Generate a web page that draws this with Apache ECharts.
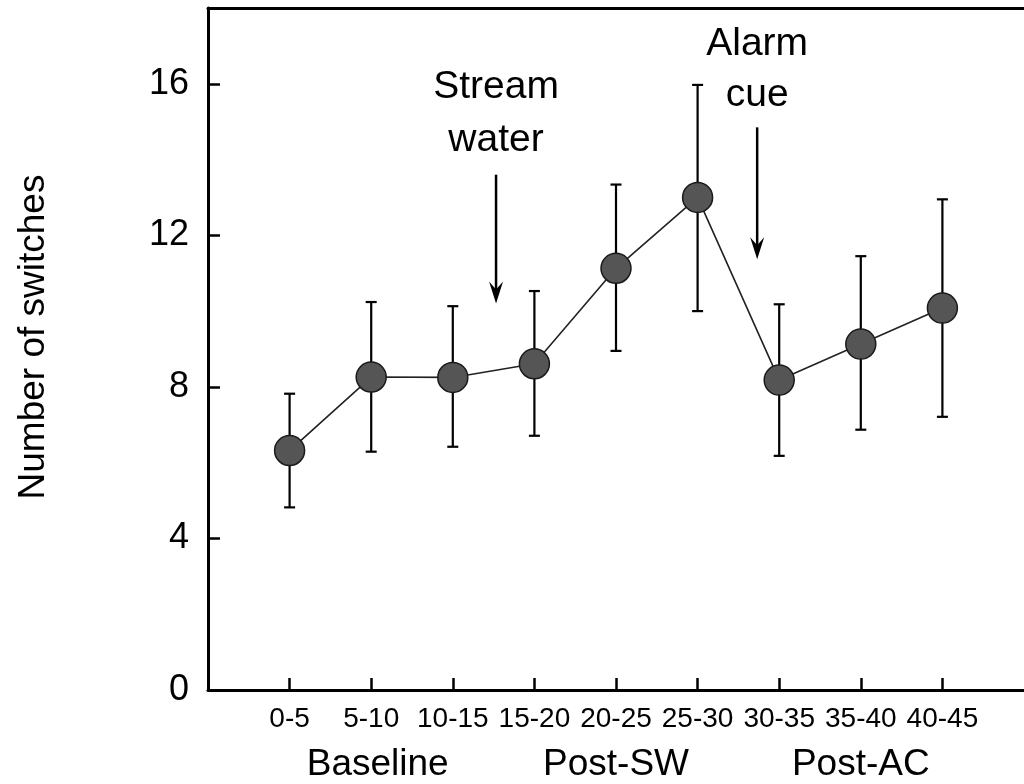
<!DOCTYPE html>
<html><head><meta charset="utf-8">
<script src="https://cdn.jsdelivr.net/npm/echarts@6/dist/echarts.min.js"></script>
<style>html,body{margin:0;padding:0;background:#fff}#c{width:1024px;height:784px}</style>
</head><body><div id="c"></div>
<script>
const categories = ['0-5','5-10','10-15','15-20','20-25','25-30','30-35','35-40','40-45'];
const means = [6.32, 8.26, 8.25, 8.61, 11.13, 13.0, 8.18, 9.13, 10.08];
const upper = [7.82, 10.24, 10.13, 10.53, 13.34, 15.97, 10.18, 11.45, 12.95];
const lower = [4.82, 6.29, 6.42, 6.71, 8.95, 10.0, 6.18, 6.87, 7.21];
const yTicks = [0, 4, 8, 12, 16];
const yTitle = 'Number of switches';
const phaseLabels = ['Baseline', 'Post-SW', 'Post-AC'];
const phasePositions = [2.08, 5, 8];
const annoLines = [['Stream', 'water'], ['Alarm', 'cue']];
const annoX = [3.53, 6.73];
const annoTextY = [[15.9, 14.5], [17.05, 15.7]];
const annoArrowFrom = [13.6, 14.85];
const annoArrowTo = [10.2, 11.37];

const FONT = '"Liberation Sans", Arial, Helvetica, sans-serif';
const xs = categories.map((c, i) => i + 1);
const pointData = xs.map((x, i) => [x, means[i]]);
const errData = xs.map((x, i) => [x, lower[i], upper[i]]);
const annoData = annoX.map((x, i) => [x, annoArrowFrom[i], annoArrowTo[i], i]);

const chart = echarts.init(document.getElementById('c'), null, {renderer: 'canvas'});
const axisLine = {show: true, lineStyle: {color: '#000', width: 3}};
chart.setOption({
  animation: false,
  backgroundColor: '#fff',
  grid: {left: 208, right: -3, top: 8, bottom: 94},
  xAxis: [{
    type: 'value', min: 0, max: 10, position: 'bottom',
    axisLine: axisLine,
    axisTick: {show: true, inside: true, length: 12, lineStyle: {color: '#000', width: 2.5}, customValues: xs},
    axisLabel: {show: true, customValues: xs, formatter: v => categories[Math.round(v) - 1] || '',
      fontSize: 28, color: '#000', fontFamily: FONT, margin: 15},
    splitLine: {show: false}
  }, {
    type: 'value', min: 0, max: 10, position: 'top',
    axisLine: axisLine, axisTick: {show: false}, axisLabel: {show: false}, splitLine: {show: false}
  }],
  yAxis: {
    type: 'value', min: 0, max: 18,
    axisLine: axisLine,
    axisTick: {show: true, inside: true, length: 12, lineStyle: {color: '#000', width: 2.5}, customValues: yTicks},
    axisLabel: {show: true, customValues: yTicks, fontSize: 36, color: '#000', fontFamily: FONT, margin: 19},
    splitLine: {show: false}
  },
  series: [{
    type: 'custom', name: 'err', data: errData, z: 2,
    renderItem: (params, api) => {
      const x = api.value(0);
      const lo = api.coord([x, api.value(1)]);
      const hi = api.coord([x, api.value(2)]);
      const cw = 5.5;
      const st = {stroke: '#000', lineWidth: 2.2};
      return {type: 'group', children: [
        {type: 'line', shape: {x1: lo[0], y1: lo[1], x2: hi[0], y2: hi[1]}, style: st},
        {type: 'line', shape: {x1: hi[0] - cw, y1: hi[1], x2: hi[0] + cw, y2: hi[1]}, style: st},
        {type: 'line', shape: {x1: lo[0] - cw, y1: lo[1], x2: lo[0] + cw, y2: lo[1]}, style: st}
      ]};
    }
  }, {
    type: 'line', data: pointData, z: 3,
    symbol: 'circle', symbolSize: 30,
    lineStyle: {color: '#222', width: 1.6},
    itemStyle: {color: '#555555', borderColor: '#1a1a1a', borderWidth: 1.5}
  }, {
    type: 'custom', name: 'anno', data: annoData, z: 4, clip: false,
    renderItem: (params, api) => {
      const x = api.value(0);
      const idx = api.value(3);
      const from = api.coord([x, api.value(1)]);
      const to = api.coord([x, api.value(2)]);
      const ch = [];
      ch.push({type: 'line', shape: {x1: from[0], y1: from[1], x2: to[0], y2: to[1] - 12}, style: {stroke: '#000', lineWidth: 2.5}});
      ch.push({type: 'polygon', shape: {points: [[to[0], to[1]], [to[0] - 7, to[1] - 22], [to[0], to[1] - 14], [to[0] + 7, to[1] - 22]]}, style: {fill: '#000'}});
      annoLines[idx].forEach((t, j) => {
        const p = api.coord([x, annoTextY[idx][j]]);
        ch.push({type: 'text', style: {x: p[0], y: p[1], text: t, align: 'center', verticalAlign: 'middle',
          font: '39px ' + FONT, fill: '#000'}});
      });
      return {type: 'group', children: ch};
    }
  }]
});

const gy = 765;
const graphics = phaseLabels.map((t, i) => {
  const px = chart.convertToPixel({xAxisIndex: 0}, phasePositions[i]);
  return {type: 'text', x: px, y: gy, style: {text: t, align: 'center', verticalAlign: 'middle',
    font: '37px ' + FONT, fill: '#000'}};
});
graphics.push({type: 'text', x: 34, y: 337, rotation: Math.PI / 2,
  style: {text: yTitle, align: 'center', verticalAlign: 'middle', font: '37px ' + FONT, fill: '#000'}});
chart.setOption({graphic: graphics});
</script></body></html>
